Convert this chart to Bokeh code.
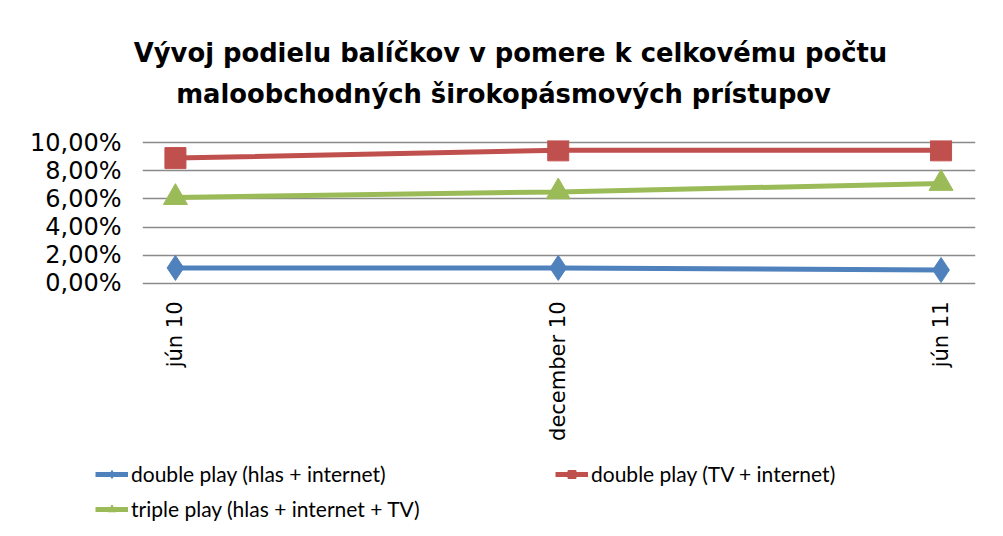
from math import pi
from bokeh.plotting import figure
from bokeh.layouts import column
from bokeh.models import Range1d, FixedTicker, Label, Legend, LegendItem
from bokeh.embed import file_html
from bokeh.resources import INLINE

categories = ["jún 10", "december 10", "jún 11"]
x_pos = [0, 1, 2]
dp_hlas = [1.1, 1.1, 0.95]
dp_tv = [8.9, 9.45, 9.45]
tp = [6.1, 6.5, 7.1]
y_ticks = [0, 2, 4, 6, 8, 10]
y_labels = ["0,00%", "2,00%", "4,00%", "6,00%", "8,00%", "10,00%"]
title_lines = ["Vývoj podielu balíčkov v pomere k celkovému počtu",
               "maloobchodných  širokopásmových  prístupov"]

names = ["double play (hlas + internet)", "double play (TV + internet)", "triple play (hlas + internet + TV)"]
colors = ["#4F81BD", "#C0504D", "#9BBB59"]
markers = ["diamond", "square", "triangle"]
sizes = [25, 21, 24]

TFONT = "DejaVu Sans"
LFONT = "Lato"


def no_align(fig):
    if "frame_align" in fig.properties():
        fig.frame_align = False


# ---- title strip ----
tf = figure(width=995, height=128, output_backend="svg", toolbar_location=None,
            x_axis_type=None, y_axis_type=None, min_border=0,
            x_range=Range1d(0, 995), y_range=Range1d(0, 128))
tf.outline_line_color = None
tf.xgrid.grid_line_color = None
tf.ygrid.grid_line_color = None
no_align(tf)
for line, xx, yy in zip(title_lines, [510, 512], [76, 35]):
    tf.add_layout(Label(x=xx, y=yy, text=line, text_align="center", text_baseline="middle",
                        text_font=TFONT, text_font_size="25.8px", text_font_style="bold",
                        text_color="#000000"))

# ---- main chart ----
p = figure(frame_width=833, frame_height=145, output_backend="svg", toolbar_location=None,
           x_range=Range1d(-0.086, 2.09), y_range=Range1d(-0.15, 10.15),
           min_border_left=142, min_border_right=20, min_border_top=12, min_border_bottom=155)
p.outline_line_color = None
no_align(p)

p.yaxis.ticker = FixedTicker(ticks=y_ticks)
p.yaxis.major_label_overrides = {t: l for t, l in zip(y_ticks, y_labels)}
p.yaxis.axis_line_color = None
p.yaxis.major_tick_line_color = None
p.yaxis.minor_tick_line_color = None
p.yaxis.major_tick_out = 0
p.yaxis.major_tick_in = 0
p.yaxis.major_label_standoff = 21
p.yaxis.major_label_text_font = TFONT
p.yaxis.major_label_text_font_size = "24px"
p.yaxis.major_label_text_color = "#000000"

p.xaxis.ticker = FixedTicker(ticks=x_pos)
p.xaxis.major_label_overrides = {x: c for x, c in zip(x_pos, categories)}
p.xaxis.major_label_orientation = pi / 2
p.xaxis.axis_line_color = None
p.xaxis.major_tick_line_color = None
p.xaxis.minor_tick_line_color = None
p.xaxis.major_tick_out = 0
p.xaxis.major_tick_in = 0
p.xaxis.major_label_standoff = 16
p.xaxis.major_label_text_font = TFONT
p.xaxis.major_label_text_font_size = "21px"
p.xaxis.major_label_text_color = "#000000"

p.xgrid.grid_line_color = None
p.ygrid.ticker = FixedTicker(ticks=y_ticks)
p.ygrid.grid_line_color = "#8a8a8a"
p.ygrid.grid_line_width = 1.5

series = [dp_hlas, dp_tv, tp]
for vals, col, mk, sz in zip(series, colors, markers, sizes):
    p.line(x_pos, vals, line_color=col, line_width=5)
    p.scatter(x_pos, vals, marker=mk, size=sz, fill_color=col, line_color=col)

# ---- legend strip ----
lg = figure(width=995, height=84, output_backend="svg", toolbar_location=None,
            x_axis_type=None, y_axis_type=None, min_border=0,
            x_range=Range1d(100, 101), y_range=Range1d(100, 101))
lg.outline_line_color = None
lg.xgrid.grid_line_color = None
lg.ygrid.grid_line_color = None
no_align(lg)
items = []
for vals, col, mk, nm in zip(series, colors, markers, names):
    lr = lg.line(x_pos, vals, line_color=col, line_width=5)
    sr = lg.scatter(x_pos, vals, marker=mk, size=17, fill_color=col, line_color=col)
    items.append(LegendItem(label=nm, renderers=[lr, sr]))

legend = Legend(items=items, orientation="horizontal", ncols=2, location=(95, 6),
                glyph_width=33, glyph_height=20, label_standoff=3, label_width=414,
                spacing=10, padding=4, margin=0,
                label_text_font=LFONT, label_text_font_size="21px", label_text_color="#000000",
                border_line_color=None, background_fill_alpha=0)
lg.add_layout(legend, "center")

layout = column(tf, p, lg, spacing=0)
open("out.html", "w").write(file_html(layout, INLINE))
